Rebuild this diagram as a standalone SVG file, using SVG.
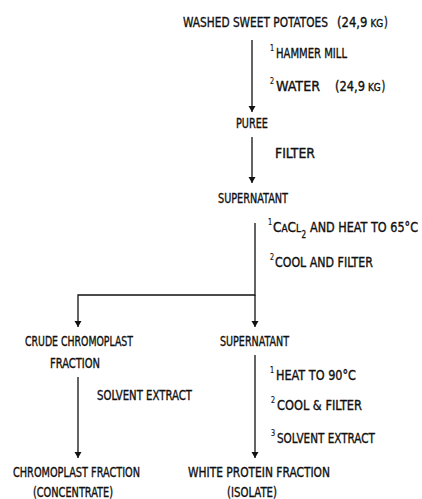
<svg xmlns="http://www.w3.org/2000/svg" width="422" height="499" viewBox="0 0 422 499">
<style>
text{font-family:"DejaVu Sans Condensed","DejaVu Sans","Liberation Sans",sans-serif;font-size:13.5px;fill:#111;stroke:#111;stroke-width:0.35}
.sup{font-size:9px;stroke-width:0.2}
.sm{font-size:10px}
.ln{stroke:#111;stroke-width:1.3;fill:none}
</style>
<defs>
<marker id="ah" viewBox="0 0 6 10" refX="6" refY="5" markerWidth="6" markerHeight="10" markerUnits="userSpaceOnUse" orient="auto">
<path d="M0,1.5 L6,5 L0,8.5 Z" fill="#111"/>
</marker>
</defs>
<g id="connectors">
<line class="ln" x1="252" y1="40" x2="252" y2="112" marker-end="url(#ah)"/>
<line class="ln" x1="252" y1="137" x2="252" y2="183" marker-end="url(#ah)"/>
<polyline class="ln" points="255,223 255,295 78,295 78,327" marker-end="url(#ah)"/>
<line class="ln" x1="255" y1="295" x2="255" y2="327" marker-end="url(#ah)"/>
<line class="ln" x1="78" y1="377" x2="78" y2="458" marker-end="url(#ah)"/>
<line class="ln" x1="255" y1="355" x2="255" y2="458" marker-end="url(#ah)"/>
</g>
<g id="n-washed" transform="scale(0.8,1)"><text x="228.75" y="27" textLength="181.25" lengthAdjust="spacingAndGlyphs">WASHED SWEET POTATOES</text><text x="421.25" y="27" textLength="38" lengthAdjust="spacingAndGlyphs">(24,9</text><text class="sm" x="463" y="27" textLength="16" lengthAdjust="spacingAndGlyphs">KG</text><text x="480" y="27">)</text></g>
<g id="l-mill" transform="scale(0.8,1)"><text class="sup" x="337.5" y="51">1</text><text x="345" y="58" textLength="88.75" lengthAdjust="spacingAndGlyphs">HAMMER MILL</text></g>
<g id="l-water" transform="scale(0.8,1)"><text class="sup" x="337.5" y="84">2</text><text x="345" y="91" textLength="55" lengthAdjust="spacingAndGlyphs">WATER</text><text x="418.75" y="91" textLength="37.5" lengthAdjust="spacingAndGlyphs">(24,9</text><text class="sm" x="460" y="91" textLength="16" lengthAdjust="spacingAndGlyphs">KG</text><text x="477" y="91">)</text></g>
<g id="n-puree" transform="scale(0.8,1)"><text x="295" y="128" textLength="40" lengthAdjust="spacingAndGlyphs">PUREE</text></g>
<g id="l-filter" transform="scale(0.8,1)"><text x="343.75" y="158" textLength="50" lengthAdjust="spacingAndGlyphs">FILTER</text></g>
<g id="n-super1" transform="scale(0.8,1)"><text x="272.5" y="203" textLength="87.5" lengthAdjust="spacingAndGlyphs">SUPERNATANT</text></g>
<g id="l-cacl" transform="scale(0.8,1)"><text class="sup" x="335" y="225">1</text><text x="341.25" y="232" textLength="35" lengthAdjust="spacingAndGlyphs">C<tspan class="sm">A</tspan>C<tspan class="sm">L</tspan></text><text class="sm" x="377" y="238">2</text><text x="387.5" y="232" textLength="135" lengthAdjust="spacingAndGlyphs">AND HEAT TO 65°C</text></g>
<g id="l-cool1" transform="scale(0.8,1)"><text class="sup" x="337.5" y="260">2</text><text x="343.75" y="267" textLength="122.5" lengthAdjust="spacingAndGlyphs">COOL AND FILTER</text></g>
<g id="n-crude" transform="scale(0.8,1)"><text x="31.25" y="346" textLength="135" lengthAdjust="spacingAndGlyphs">CRUDE CHROMOPLAST</text><text x="62.5" y="368" textLength="62.5" lengthAdjust="spacingAndGlyphs">FRACTION</text></g>
<g id="n-super2" transform="scale(0.8,1)"><text x="275" y="346" textLength="86.25" lengthAdjust="spacingAndGlyphs">SUPERNATANT</text></g>
<g id="l-solvent1" transform="scale(0.8,1)"><text x="121.25" y="400" textLength="118.75" lengthAdjust="spacingAndGlyphs">SOLVENT EXTRACT</text></g>
<g id="l-heat" transform="scale(0.8,1)"><text class="sup" x="337.5" y="373">1</text><text x="345" y="380" textLength="100" lengthAdjust="spacingAndGlyphs">HEAT TO 90°C</text></g>
<g id="l-cool2" transform="scale(0.8,1)"><text class="sup" x="338.75" y="403">2</text><text x="346.25" y="410" textLength="106.25" lengthAdjust="spacingAndGlyphs">COOL &amp; FILTER</text></g>
<g id="l-solvent2" transform="scale(0.8,1)"><text class="sup" x="338.75" y="436">3</text><text x="346.25" y="443" textLength="122.5" lengthAdjust="spacingAndGlyphs">SOLVENT EXTRACT</text></g>
<g id="n-chromo" transform="scale(0.8,1)"><text x="16.25" y="477" textLength="158.75" lengthAdjust="spacingAndGlyphs">CHROMOPLAST FRACTION</text><text x="41.25" y="497" textLength="100" lengthAdjust="spacingAndGlyphs">(CONCENTRATE)</text></g>
<g id="n-white" transform="scale(0.8,1)"><text x="235" y="477" textLength="177.5" lengthAdjust="spacingAndGlyphs">WHITE PROTEIN FRACTION</text><text x="283.75" y="497" textLength="62.5" lengthAdjust="spacingAndGlyphs">(ISOLATE)</text></g>
</svg>
